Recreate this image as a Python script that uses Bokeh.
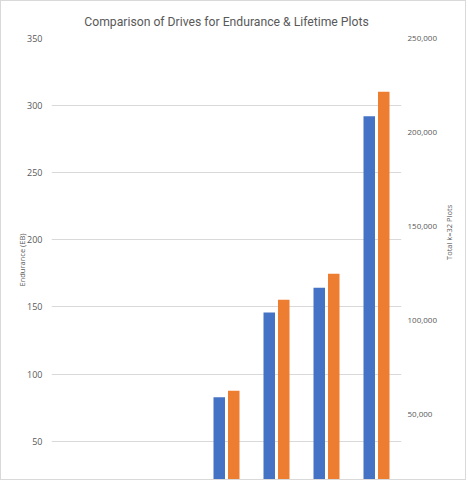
import math
from bokeh.plotting import figure
from bokeh.models import LinearAxis, Range1d, FixedTicker, NumeralTickFormatter, FactorRange
from bokeh.transform import dodge
from bokeh.embed import file_html
from bokeh.resources import INLINE
from bokeh.models import ColumnDataSource

# ---- data (lower categories are cut off in the reference) ----
drives = ["Drive A", "Drive B", "Drive C", "Drive D", "Drive E", "Drive F", "Drive G"]
endurance_eb = [5, 17, 18, 82.6, 145.9, 164.3, 292.0]
total_plots = [3800, 13000, 13600, 62500, 111000, 124800, 221700]
left_ticks = [50, 100, 150, 200, 250, 300, 350]
right_ticks = [50000, 100000, 150000, 200000, 250000]
title_text = "Comparison of Drives for Endurance & Lifetime Plots"

src = ColumnDataSource(dict(drive=drives, endurance=endurance_eb, plots=total_plots))

GRAY = "#595959"
FONT = "Open Sans"

p = figure(
    width=466, height=480,
    x_range=FactorRange(*drives, range_padding=0),
    y_range=Range1d(19.9, 350),
    output_backend="svg", toolbar_location=None,
    min_border_left=50, min_border_right=66, min_border_top=37, min_border_bottom=0,
    title=title_text,
)
p.x_range.factor_padding = 0
p.extra_y_ranges = {"plots": Range1d(19.9 * 250000 / 350, 250000)}

p.vbar(x=dodge("drive", -0.145, range=p.x_range), top="endurance", bottom=0, width=0.23,
       source=src, fill_color="#4472C4", line_color=None)
p.vbar(x=dodge("drive", 0.145, range=p.x_range), top="plots", bottom=0, width=0.23,
       source=src, fill_color="#ED7D31", line_color=None, y_range_name="plots")

p.title.align = "center"
p.title.text_font = "Roboto"
p.title.text_font_style = "normal"
p.title.text_font_size = "12.2px"
p.title.text_color = GRAY
p.title.standoff = 20

p.xaxis.visible = False
p.xgrid.visible = False
p.ygrid.grid_line_color = "#d9d9d9"
p.ygrid.grid_line_width = 1
p.outline_line_color = None

ya = p.yaxis[0]
ya.ticker = FixedTicker(ticks=left_ticks)
ya.axis_label = "Endurance (EB)"
ya.axis_line_color = None
ya.major_tick_line_color = None
ya.minor_tick_line_color = None
ya.major_label_standoff = 3
ya.major_label_text_font = FONT
ya.major_label_text_font_size = "9px"
ya.major_label_text_color = GRAY
ya.axis_label_text_font = FONT
ya.axis_label_text_font_size = "7.5px"
ya.axis_label_text_font_style = "normal"
ya.axis_label_text_color = GRAY
ya.axis_label_standoff = -3

ra = LinearAxis(y_range_name="plots", ticker=FixedTicker(ticks=right_ticks),
                formatter=NumeralTickFormatter(format="0,0"),
                axis_label="Total k=32 Plots")
ra.axis_line_color = None
ra.major_tick_line_color = None
ra.minor_tick_line_color = None
ra.major_label_standoff = 0
ra.major_label_text_font = FONT
ra.major_label_text_font_size = "8px"
ra.major_label_text_color = GRAY
ra.axis_label_text_font = FONT
ra.axis_label_text_font_size = "7.5px"
ra.axis_label_text_font_style = "normal"
ra.axis_label_text_color = GRAY
ra.axis_label_standoff = 9
ra.axis_label_orientation = math.pi / 2
p.add_layout(ra, "right")

p.styles = {"border": "1px solid #d9d9d9", "box-sizing": "border-box"}

open("out.html", "w").write(file_html(p, INLINE))
